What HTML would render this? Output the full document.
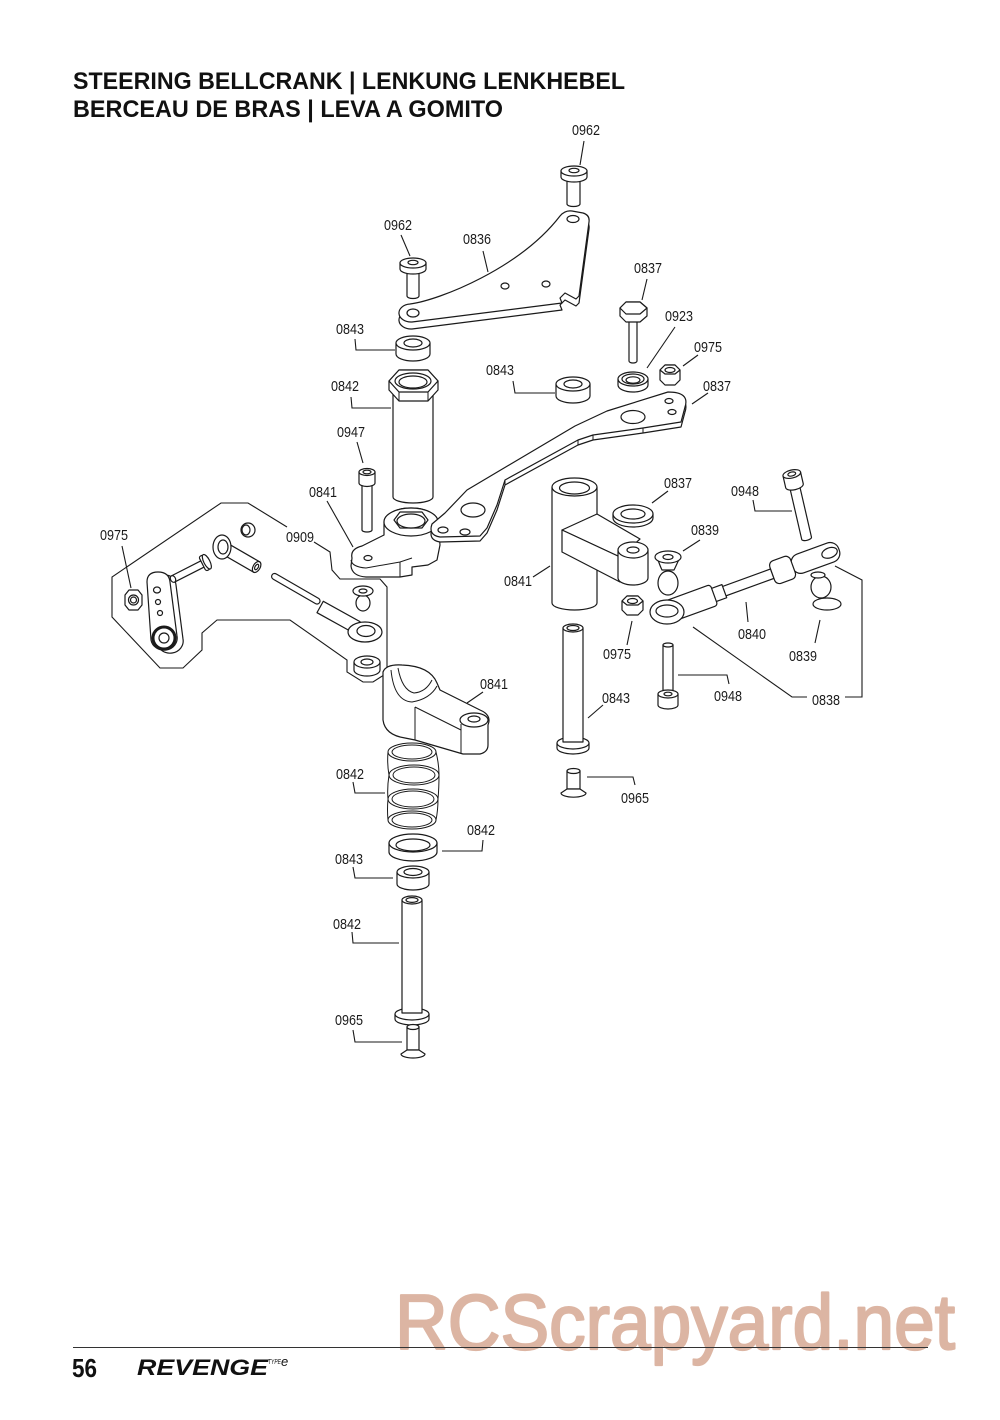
<!DOCTYPE html>
<html><head><meta charset="utf-8"><style>
html,body{margin:0;padding:0;background:#fff;}
svg{display:block;}
.t{font-family:"Liberation Sans",sans-serif;font-weight:bold;font-size:24px;fill:#111;}
.l{font-family:"Liberation Sans",sans-serif;font-size:15px;fill:#1a1a1a;text-anchor:middle;}
.ld{fill:none;stroke:#1a1a1a;stroke-width:1.1;}
.p{fill:#fff;stroke:#1a1a1a;stroke-width:1.2;stroke-linejoin:round;}
.n{fill:none;stroke:#1a1a1a;stroke-width:1;}
</style></head><body>
<svg width="1000" height="1420" viewBox="0 0 1000 1420" xmlns="http://www.w3.org/2000/svg">
<rect width="1000" height="1420" fill="#fff"/>
<text class="t" x="73" y="89" textLength="552" lengthAdjust="spacingAndGlyphs">STEERING BELLCRANK | LENKUNG LENKHEBEL</text>
<text class="t" x="73" y="117" textLength="430" lengthAdjust="spacingAndGlyphs">BERCEAU DE BRAS | LEVA A GOMITO</text>

<!-- leaders -->
<g class="ld">
<polyline points="584,141 580,165"/>
<polyline points="401,235 410,256"/>
<polyline points="483,251 488,272"/>
<polyline points="647,279 642,300"/>
<polyline points="355,339 356,350 395,350"/>
<polyline points="675,327 647,368"/>
<polyline points="698,355 683,366"/>
<polyline points="513,381 515,393 555,393"/>
<polyline points="351,397 352,408 391,408"/>
<polyline points="708,393 692,404"/>
<polyline points="357,442 363,463"/>
<polyline points="327,501 353,547"/>
<polyline points="668,491 652,503"/>
<polyline points="753,500 755,511 792,511"/>
<polyline points="122,546 131,588"/>
<polyline points="700,540 683,551"/>
<polyline points="533,577 550,566"/>
<polyline points="627,645 632,621"/>
<polyline points="748,622 746,602"/>
<polyline points="815,643 820,620"/>
<polyline points="693,627 792,697 807,697"/>
<polyline points="845,697 862,697 862,580 835,566"/>
<polyline points="678,675 727,675 729,684"/>
<polyline points="588,718 603,705"/>
<polyline points="587,777 633,777 635,785"/>
<polyline points="483,692 467,703"/>
<polyline points="353,782 355,793 385,793"/>
<polyline points="483,840 482,851 442,851"/>
<polyline points="353,867 355,878 393,878"/>
<polyline points="352,932 353,943 399,943"/>
<polyline points="353,1030 355,1042 402,1042"/>
<polyline points="287,527 248,503 221,503 112,577 112,617 160,668 183,668 202,650 202,633 217,620 290,620 347,660 347,672 363,682 373,682 387,673 387,587 380,579 340,579 332,570 330,552 314,542"/>
</g>

<!-- labels -->
<g>
<text class="l" x="586" y="135" textLength="28" lengthAdjust="spacingAndGlyphs">0962</text>
<text class="l" x="398" y="230" textLength="28" lengthAdjust="spacingAndGlyphs">0962</text>
<text class="l" x="477" y="244" textLength="28" lengthAdjust="spacingAndGlyphs">0836</text>
<text class="l" x="648" y="273" textLength="28" lengthAdjust="spacingAndGlyphs">0837</text>
<text class="l" x="350" y="334" textLength="28" lengthAdjust="spacingAndGlyphs">0843</text>
<text class="l" x="679" y="321" textLength="28" lengthAdjust="spacingAndGlyphs">0923</text>
<text class="l" x="708" y="352" textLength="28" lengthAdjust="spacingAndGlyphs">0975</text>
<text class="l" x="500" y="375" textLength="28" lengthAdjust="spacingAndGlyphs">0843</text>
<text class="l" x="345" y="391" textLength="28" lengthAdjust="spacingAndGlyphs">0842</text>
<text class="l" x="717" y="391" textLength="28" lengthAdjust="spacingAndGlyphs">0837</text>
<text class="l" x="351" y="437" textLength="28" lengthAdjust="spacingAndGlyphs">0947</text>
<text class="l" x="323" y="497" textLength="28" lengthAdjust="spacingAndGlyphs">0841</text>
<text class="l" x="678" y="488" textLength="28" lengthAdjust="spacingAndGlyphs">0837</text>
<text class="l" x="745" y="496" textLength="28" lengthAdjust="spacingAndGlyphs">0948</text>
<text class="l" x="114" y="540" textLength="28" lengthAdjust="spacingAndGlyphs">0975</text>
<text class="l" x="300" y="542" textLength="28" lengthAdjust="spacingAndGlyphs">0909</text>
<text class="l" x="705" y="535" textLength="28" lengthAdjust="spacingAndGlyphs">0839</text>
<text class="l" x="518" y="586" textLength="28" lengthAdjust="spacingAndGlyphs">0841</text>
<text class="l" x="617" y="659" textLength="28" lengthAdjust="spacingAndGlyphs">0975</text>
<text class="l" x="752" y="639" textLength="28" lengthAdjust="spacingAndGlyphs">0840</text>
<text class="l" x="803" y="661" textLength="28" lengthAdjust="spacingAndGlyphs">0839</text>
<text class="l" x="494" y="689" textLength="28" lengthAdjust="spacingAndGlyphs">0841</text>
<text class="l" x="616" y="703" textLength="28" lengthAdjust="spacingAndGlyphs">0843</text>
<text class="l" x="728" y="701" textLength="28" lengthAdjust="spacingAndGlyphs">0948</text>
<text class="l" x="826" y="705" textLength="28" lengthAdjust="spacingAndGlyphs">0838</text>
<text class="l" x="350" y="779" textLength="28" lengthAdjust="spacingAndGlyphs">0842</text>
<text class="l" x="635" y="803" textLength="28" lengthAdjust="spacingAndGlyphs">0965</text>
<text class="l" x="481" y="835" textLength="28" lengthAdjust="spacingAndGlyphs">0842</text>
<text class="l" x="349" y="864" textLength="28" lengthAdjust="spacingAndGlyphs">0843</text>
<text class="l" x="347" y="929" textLength="28" lengthAdjust="spacingAndGlyphs">0842</text>
<text class="l" x="349" y="1025" textLength="28" lengthAdjust="spacingAndGlyphs">0965</text>
</g>

<!-- 0962 top screw -->
<g class="p">
<path d="M567,176 V204 A6.5,2.5 0 0 0 580,204 V176 Z"/>
<path d="M561,171 V177 A13,5 0 0 0 587,177 V171 Z"/>
<ellipse cx="574" cy="171" rx="13" ry="5"/>
<ellipse cx="574" cy="170.5" rx="5" ry="2.2"/>
</g>
<!-- 0962 left screw -->
<g class="p">
<path d="M407,268 V296 A6,2.5 0 0 0 419,296 V268 Z"/>
<path d="M400,263 V269 A13,5 0 0 0 426,269 V263 Z"/>
<ellipse cx="413" cy="263" rx="13" ry="5"/>
<ellipse cx="413" cy="262.5" rx="5" ry="2.2"/>
</g>

<!-- 0836 plate -->
<g class="p">
<path transform="translate(0,7)" d="M410,304 C440,300 520,268 560,216 Q565,210 572,211 L583,213 Q590,215 589,222 L579,296 L576,299 L565,293 L560,298 L562,303 L412,322 A12,9 0 0 1 410,304 Z"/>
<path d="M410,304 C440,300 520,268 560,216 Q565,210 572,211 L583,213 Q590,215 589,222 L579,296 L576,299 L565,293 L560,298 L562,303 L412,322 A12,9 0 0 1 410,304 Z"/>
<ellipse cx="573" cy="219" rx="6" ry="3.5"/>
<ellipse cx="505" cy="286" rx="4" ry="3"/>
<ellipse cx="546" cy="284" rx="4" ry="3"/>
<ellipse cx="413" cy="313" rx="6" ry="4"/>
</g>

<!-- 0843 washer top-left -->
<g class="p">
<path d="M396,343 V354 A17,7 0 0 0 430,354 V343 Z"/>
<ellipse cx="413" cy="343" rx="17" ry="7"/>
<ellipse cx="413" cy="343" rx="9" ry="4"/>
</g>

<!-- 0842 column -->
<g class="p">
<path d="M393,392 V497 A20,6 0 0 0 433,497 V392 Z"/>
<polygon points="389,381 399,370 428,370 438,381 438,390 428,401 399,401 389,390"/>
<polygon points="389,381 399,370 428,370 438,381 428,392 399,392"/>
<ellipse cx="413" cy="381" rx="18" ry="8"/>
<ellipse cx="413" cy="382" rx="14" ry="6"/>
</g>
<g class="n"><line x1="399" y1="392" x2="399" y2="401"/><line x1="428" y1="392" x2="428" y2="401"/></g>

<!-- 0837 bolt -->
<g class="p">
<path d="M629,318 V361 A4,2 0 0 0 637,361 V318 Z"/>
<polygon points="620,308 626,302 640,302 647,308 647,316 640,322 626,322 620,316"/>
<polygon points="620,308 626,302 640,302 647,308 640,314 626,314"/>
</g>
<!-- 0923 bearing -->
<g class="p">
<path d="M618,379 V385 A15,7 0 0 0 648,385 V379 Z"/>
<ellipse cx="633" cy="379" rx="15" ry="7"/>
<ellipse cx="633" cy="379" rx="11" ry="5"/>
<ellipse cx="633" cy="380" rx="7" ry="3.2"/>
</g>
<!-- 0975 nut top -->
<g class="p">
<polygon points="660,370 665,365 675,365 680,370 680,380 675,385 665,385 660,380"/>
<polygon points="660,370 665,365 675,365 680,370 675,374 665,374"/>
<ellipse cx="670" cy="370" rx="5" ry="2.5"/>
</g>
<!-- 0843 washer mid -->
<g class="p">
<path d="M556,384 V396 A17,7 0 0 0 590,396 V384 Z"/>
<ellipse cx="573" cy="384" rx="17" ry="7"/>
<ellipse cx="573" cy="384" rx="9" ry="4"/>
</g>

<!-- 0947 screw -->
<g class="p">
<path d="M362,482 V530 A5,2 0 0 0 372,530 V482 Z"/>
<path d="M359,472 V483 A8,3.5 0 0 0 375,483 V472 Z"/>
<ellipse cx="367" cy="472" rx="8" ry="3.5"/>
<ellipse cx="367" cy="472" rx="4" ry="1.8"/>
</g>

<!-- 0841 upper bellcrank -->
<g class="p">
<path d="M352,558 Q350,549 362,546 L384,535 L384,522 A27,14 0 0 1 438,522 L440,545 L437,560 L428,565 L412,567 L412,575 L400,577 L366,577 Q352,576 351,566 Z"/>
<ellipse cx="411" cy="522" rx="27" ry="14"/>
<polygon points="394,520 400,512 422,512 428,520 422,528 400,528"/>
<ellipse cx="411" cy="521" rx="14" ry="7"/>
<ellipse cx="368" cy="558" rx="4" ry="2.5"/>
</g>
<g class="n">
<path d="M351,560 Q352,567 366,568 L400,562 L412,558"/>
<line x1="400" y1="562" x2="400" y2="577"/>
</g>

<!-- 0837 arm -->
<g class="p">
<path transform="translate(0,5)" d="M668,392 Q690,392 685,407 L681,422 L643,428 L593,435 L578,440 L505,480 L497,505 L487,528 L480,536 L440,537 Q428,535 432,524 L445,513 L467,490 L575,426 L607,411 Z"/>
<path d="M668,392 Q690,392 685,407 L681,422 L643,428 L593,435 L578,440 L505,480 L497,505 L487,528 L480,536 L440,537 Q428,535 432,524 L445,513 L467,490 L575,426 L607,411 Z"/>
<ellipse cx="669" cy="401" rx="4" ry="2.5"/>
<ellipse cx="672" cy="412" rx="4" ry="2.5"/>
<ellipse cx="633" cy="417" rx="12" ry="6.5"/>
<ellipse cx="473" cy="510" rx="12" ry="7"/>
<ellipse cx="443" cy="530" rx="5" ry="3"/>
<ellipse cx="465" cy="532" rx="5" ry="3"/>
</g>
<g class="n">
<line x1="643" y1="428" x2="643" y2="433"/>
<line x1="593" y1="435" x2="593" y2="440"/>
<line x1="578" y1="440" x2="578" y2="445"/>
<line x1="505" y1="480" x2="505" y2="485"/>
</g>

<!-- 0841 post -->
<g class="p">
<path d="M552,487 V603 A22.5,7 0 0 0 597,603 V487 Z"/>
<ellipse cx="574.5" cy="487" rx="22.5" ry="9"/>
<ellipse cx="574.5" cy="488" rx="15" ry="6"/>
<polygon points="562,530 597,514 640,539 620,557"/>
<polygon points="562,530 620,557 620,582 562,552"/>
<path d="M618,550 V578 A15,7 0 0 0 648,578 V550 Z"/>
<ellipse cx="633" cy="550" rx="15" ry="8"/>
<ellipse cx="633" cy="550" rx="6" ry="3"/>
</g>
<!-- 0837 washer -->
<g class="p">
<path d="M613,514 V518 A20,9 0 0 0 653,518 V514 Z"/>
<ellipse cx="633" cy="514" rx="20" ry="9"/>
<ellipse cx="633" cy="514" rx="12" ry="5"/>
</g>
<!-- 0839 upper ball -->
<g class="p">
<ellipse cx="668" cy="583" rx="10" ry="12"/>
<path d="M657,557 Q660,566 662,570 L674,570 Q676,566 680,557 Z"/>
<ellipse cx="668" cy="557" rx="13" ry="6"/>
<ellipse cx="668" cy="557" rx="5" ry="2.5"/>
</g>
<!-- 0975 mid nut -->
<g class="p">
<polygon points="622,601 627,596 638,596 643,601 643,610 638,615 627,615 622,610"/>
<polygon points="622,601 627,596 638,596 643,601 638,605 627,605"/>
<ellipse cx="632.5" cy="601" rx="5" ry="2.5"/>
</g>

<!-- 0948 top-right screw -->
<g class="p" transform="rotate(-13,792,475)">
<path d="M787,486 V540 A5,2 0 0 0 797,540 V486 Z"/>
<path d="M783,474 V486 A9,4 0 0 0 801,486 V474 Z"/>
<ellipse cx="792" cy="474" rx="9" ry="4"/>
<ellipse cx="792" cy="474" rx="4" ry="2"/>
</g>

<!-- rod assembly 0838 / 0840 -->
<g class="p" transform="rotate(-20,667,612)">
<rect x="727" y="607" width="52" height="10"/>
<rect x="715" y="605" width="13" height="14"/>
<rect x="667" y="601" width="50" height="22" rx="3"/>
<rect x="800" y="602" width="50" height="20" rx="9"/>
<rect x="779" y="600" width="22" height="24" rx="5"/>
<ellipse cx="840" cy="612" rx="8" ry="5"/>
</g>
<g class="p">
<ellipse cx="667" cy="612" rx="17" ry="12"/>
<ellipse cx="667" cy="611" rx="11" ry="6"/>
</g>
<!-- 0839 right ball -->
<g class="p">
<ellipse cx="827" cy="604" rx="14" ry="6"/>
<ellipse cx="821" cy="587" rx="10" ry="11"/>
<ellipse cx="818" cy="575" rx="7" ry="3"/>
</g>
<!-- 0948 lower screw -->
<g class="p">
<path d="M663,645 V695 H673 V645 Z"/>
<ellipse cx="668" cy="645" rx="5" ry="2"/>
<path d="M658,694 V705 A10,4 0 0 0 678,705 V694 Z"/>
<ellipse cx="668" cy="694" rx="10" ry="4"/>
<ellipse cx="668" cy="694" rx="4" ry="1.8"/>
</g>
<!-- 0843 pin lower right -->
<g class="p">
<path d="M557,743 V748 A16,6 0 0 0 589,748 V743 Z"/>
<ellipse cx="573" cy="743" rx="16" ry="6"/>
<path d="M563,628 V742 H583 V628 Z"/>
<ellipse cx="573" cy="628" rx="10" ry="4"/>
<ellipse cx="573" cy="628" rx="6" ry="2.5"/>
</g>
<!-- 0965 right screw -->
<g class="p">
<path d="M567,771 V789 H580 V771 Z"/>
<ellipse cx="573.5" cy="771" rx="6.5" ry="2.5"/>
<path d="M567,789 L561,793 A12,4 0 0 0 586,793 L580,789 Z"/>
</g>

<!-- 0909 group -->
<g class="p">
<path transform="translate(6,3)" d="M147,582 Q147,572 158,572 Q169,572 170,582 L177,636 A13,12 0 0 1 151,640 Z"/>
<path d="M147,582 Q147,572 158,572 Q169,572 170,582 L177,636 A13,12 0 0 1 151,640 Z"/>
<ellipse cx="157" cy="590" rx="3.5" ry="3"/>
<ellipse cx="158" cy="602" rx="2.5" ry="2.5"/>
<ellipse cx="160" cy="613" rx="2.5" ry="2.5"/>
<circle cx="164" cy="638" r="11" stroke-width="3"/>
<circle cx="164" cy="638" r="5"/>
</g>
<g class="p">
<polygon points="125,595 129,590 138,590 142,595 142,605 138,610 129,610 125,605"/>
<ellipse cx="133.5" cy="600" rx="5" ry="5"/>
<ellipse cx="133.5" cy="600" rx="3" ry="3"/>
</g>
<g class="p" transform="rotate(-27,173,579)">
<rect x="173" y="575.5" width="34" height="7"/>
<ellipse cx="173" cy="579" rx="2.5" ry="3.5"/>
<rect x="206" y="571" width="5" height="16" rx="2"/>
<ellipse cx="211" cy="579" rx="3" ry="8"/>
</g>
<g class="p" transform="rotate(30,222,547)">
<rect x="222" y="541" width="40" height="12"/>
<ellipse cx="262" cy="547" rx="3.5" ry="6"/>
<ellipse cx="262" cy="547" rx="1.6" ry="3"/>
</g>
<g class="p">
<ellipse cx="222" cy="547" rx="9" ry="12"/>
<ellipse cx="223" cy="547" rx="5" ry="7"/>
<ellipse cx="248" cy="530" rx="7" ry="7"/>
<ellipse cx="246" cy="530" rx="4" ry="5"/>
</g>
<g class="p" transform="rotate(30,272,575)">
<rect x="272" y="572" width="55" height="6" rx="3"/>
</g>
<g class="p" transform="rotate(29,323,608)">
<rect x="320" y="602" width="42" height="13"/>
</g>
<g class="p">
<ellipse cx="365" cy="632" rx="17" ry="10"/>
<ellipse cx="366" cy="631" rx="9" ry="5.5"/>
<ellipse cx="363" cy="603" rx="7" ry="8"/>
<ellipse cx="363" cy="591" rx="10" ry="5"/>
<ellipse cx="363" cy="591" rx="4" ry="2"/>
<path d="M354,662 V670 A13,6 0 0 0 380,670 V662 Z"/>
<ellipse cx="367" cy="662" rx="13" ry="6"/>
<ellipse cx="367" cy="662" rx="6" ry="3"/>
</g>

<!-- 0841 lower bellcrank -->
<g class="p">
<path d="M383,672 L383,720 Q385,735 405,738 L415,740 L463,754 L480,754 Q488,752 488,745 L488,725 Q492,715 480,710 L440,690 L437,683 Q430,666 402,665 Q386,664 383,672 Z"/>
<ellipse cx="474" cy="720" rx="14" ry="7"/>
<ellipse cx="474" cy="719" rx="6" ry="3"/>
</g>
<g class="n">
<path d="M391,670 Q394,701 412,702 Q430,699 437,686"/>
<path d="M398,668 Q402,690 414,693 Q426,692 432,680"/>
<line x1="415" y1="707" x2="415" y2="740"/>
<line x1="415" y1="707" x2="461" y2="730"/>
<line x1="461" y1="724" x2="461" y2="754"/>
</g>
<!-- spring -->
<g class="n" stroke-width="1.3">
<ellipse cx="412" cy="752" rx="24" ry="9"/>
<ellipse cx="412" cy="752" rx="20" ry="7"/>
<ellipse cx="414" cy="775" rx="25" ry="10"/>
<ellipse cx="414" cy="775" rx="21" ry="8"/>
<ellipse cx="413" cy="799" rx="25" ry="10"/>
<ellipse cx="413" cy="799" rx="21" ry="8"/>
<ellipse cx="412" cy="820" rx="24" ry="9"/>
<ellipse cx="412" cy="820" rx="20" ry="7"/>
<path d="M388,752 Q387,764 389,775 Q387,788 388,799 Q387,810 388,820"/>
<path d="M436,752 Q439,764 439,775 Q439,788 438,799 Q438,810 436,820"/>
</g>
<!-- ring 0842 -->
<g class="p">
<path d="M389,843 V852 A24,9 0 0 0 437,852 V843 Z"/>
<ellipse cx="413" cy="843" rx="24" ry="9"/>
<ellipse cx="413" cy="845" rx="17" ry="6"/>
</g>
<!-- washer 0843 lower -->
<g class="p">
<path d="M397,872 V884 A16,6 0 0 0 429,884 V872 Z"/>
<ellipse cx="413" cy="872" rx="16" ry="6"/>
<ellipse cx="413" cy="872" rx="9" ry="3.5"/>
</g>
<!-- pin 0842 -->
<g class="p">
<path d="M395,1014 V1019 A17,6 0 0 0 429,1019 V1014 Z"/>
<ellipse cx="412" cy="1014" rx="17" ry="6"/>
<path d="M402,900 V1013 H422 V900 Z"/>
<ellipse cx="412" cy="900" rx="10" ry="4"/>
<ellipse cx="412" cy="900" rx="6" ry="2.4"/>
</g>
<!-- 0965 bottom screw -->
<g class="p">
<path d="M407,1027 V1050 H419 V1027 Z"/>
<ellipse cx="413" cy="1027" rx="6" ry="2.5"/>
<path d="M407,1050 L401,1054 A12,4 0 0 0 425,1054 L419,1050 Z"/>
</g>

<!-- watermark -->
<text x="395" y="1349" textLength="560" lengthAdjust="spacingAndGlyphs" style="font-family:'Liberation Sans',sans-serif;font-size:78px;fill:#dcb5a3;stroke:#dcb5a3;stroke-width:2.2;stroke-linejoin:round;">RCScrapyard.net</text>

<!-- footer -->
<line x1="73" y1="1347.5" x2="928" y2="1347.5" stroke="#333" stroke-width="1"/>
<text x="72" y="1377" textLength="25" lengthAdjust="spacingAndGlyphs" style="font-family:'Liberation Sans',sans-serif;font-weight:bold;font-size:26px;fill:#111;">56</text>
<text x="137" y="1375" textLength="131" lengthAdjust="spacingAndGlyphs" style="font-family:'Liberation Sans',sans-serif;font-weight:bold;font-style:italic;font-size:22px;fill:#111;">REVENGE</text>
<text x="268" y="1364" textLength="13" lengthAdjust="spacingAndGlyphs" style="font-family:'Liberation Sans',sans-serif;font-style:italic;font-size:7px;fill:#111;">TYPE</text>
<text x="281" y="1366" style="font-family:'Liberation Sans',sans-serif;font-style:italic;font-size:13px;fill:#111;">e</text>
</svg>
</body></html>
